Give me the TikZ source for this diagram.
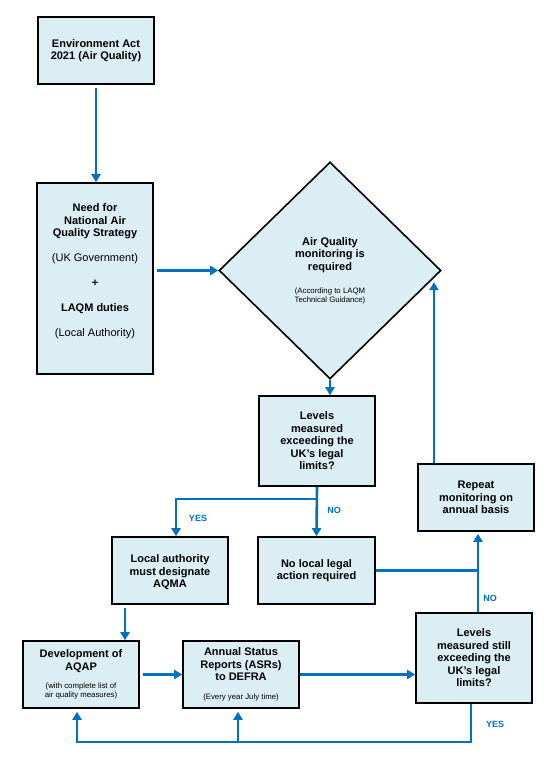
\documentclass[tikz,border=0pt]{standalone}
\usepackage{fontspec}
\setmainfont{Liberation Sans}
\usetikzlibrary{shapes.geometric,arrows.meta,calc}
\definecolor{boxfill}{HTML}{DAEEF3}
\definecolor{flowblue}{HTML}{0070C0}
\newcommand{\boxfont}{\fontsize{11}{12.5}\selectfont}
\newcommand{\notefont}{\fontsize{7.8}{9}\selectfont}
\newcommand{\tagfont}{\fontsize{9}{10}\selectfont}
\begin{document}
\begin{tikzpicture}[x=1pt,y=-1pt,
    >={Triangle[length=8pt,width=9pt]},
    box/.style={draw,line width=1.6pt,fill=boxfill,align=center,inner sep=0pt,
        minimum width=116pt,minimum height=67pt,font=\boxfont\bfseries},
    flow/.style={flowblue,line width=2.6pt},
    tag/.style={text=flowblue,font=\tagfont\bfseries,inner sep=0pt}]
    \useasboundingbox (0,0) rectangle (559,757);
    \node[box] (env) at (96,50.5) {Environment Act\\2021 (Air Quality)};
    \node[box,minimum height=191pt] (need) at (95,278.5) {Need for\\National Air\\Quality Strategy\\[12.5pt]
        {\mdseries (UK Government)}\\[12.5pt]+\\[12.5pt]LAQM duties\\[12.5pt]{\mdseries (Local Authority)}\\[4pt]\mbox{}};
    \node[box,diamond,minimum width=222pt,minimum height=217pt] (dia) at (330,270.5)
        {Air Quality\\monitoring is\\required\\[10.5pt]{\notefont\mdseries (According to LAQM}\\[-3.5pt]{\notefont\mdseries Technical Guidance)}};
    \node[box,minimum height=90pt] (lev) at (317,441) {Levels\\measured\\exceeding the\\UK’s legal\\limits?};
    \node[box] (rep) at (476,497.5) {Repeat\\monitoring on\\annual basis};
    \node[box] (la) at (170,570.5) {\mbox{}\\[-1pt]Local authority\\must designate\\AQMA};
    \node[box,minimum width=117pt] (nol) at (316.5,570.5) {No local legal\\action required};
    \node[box,minimum height=90pt] (ls) at (474,658) {Levels\\measured still\\exceeding the\\UK’s legal\\limits?};
    \node[box] (dev) at (81,674.5) {Development of\\AQAP\\[5.5pt]{\notefont\mdseries (with complete list of}\\[-3.5pt]{\notefont\mdseries air quality measures)}};
    \node[box] (asr) at (241,674.5) {Annual Status\\Reports (ASRs)\\to DEFRA\\[6.5pt]{\notefont\mdseries (Every year July time)}};

    \draw[flow,->,shorten <=3pt] (env.south) -- (env.south |- need.north);
    \draw[flow,->,shorten <=3pt] (need.east |- dia.west) -- (dia.west);
    \draw[flow,->] (dia.south) -- (dia.south |- lev.north);
    \coordinate (split) at ($(lev.south)+(0,12)$);
    \draw[flow,->] (lev.south) -- (nol.north);
    \draw[flow,->] (split) -| ([xshift=6pt]la.north);
    \draw[flow,->,shorten <=3pt] ([xshift=-45pt]la.south) -- ([xshift=-45pt]la.south |- dev.north);
    \draw[flow,->,shorten <=3pt] (dev.east) -- (asr.west);
    \draw[flow,->] (asr.east) -- (asr.east -| ls.west);
    \coordinate (up) at ([xshift=4pt]ls.north);
    \draw[flow,->,shorten >=2pt] (up) -- (up |- rep.south);
    \draw[flow] (nol.east) -- (nol.east -| up);
    \coordinate (back) at ($(ls.south)+(-3,38)$);
    \draw[flow,->,shorten >=3pt] ([xshift=-3pt]ls.south) -- (back) -| ([xshift=-4pt]dev.south);
    \draw[flow,->,shorten >=3pt] ($(back -| asr.south)+(-3,0)$) -- ([xshift=-3pt]asr.south);
    \coordinate (aim) at ($(dia.east)!0.07!(dia.south)$);
    \draw[flow,->,shorten >=4pt] (rep.north -| aim) -- (aim);

    \node[tag] (yes1) at (198,518) {YES};
    \node[tag] (no1) at (334,510) {NO};
    \node[tag] (no2) at (490,598) {NO};
    \node[tag] (yes2) at (495,724) {YES};
\end{tikzpicture}
\end{document}
